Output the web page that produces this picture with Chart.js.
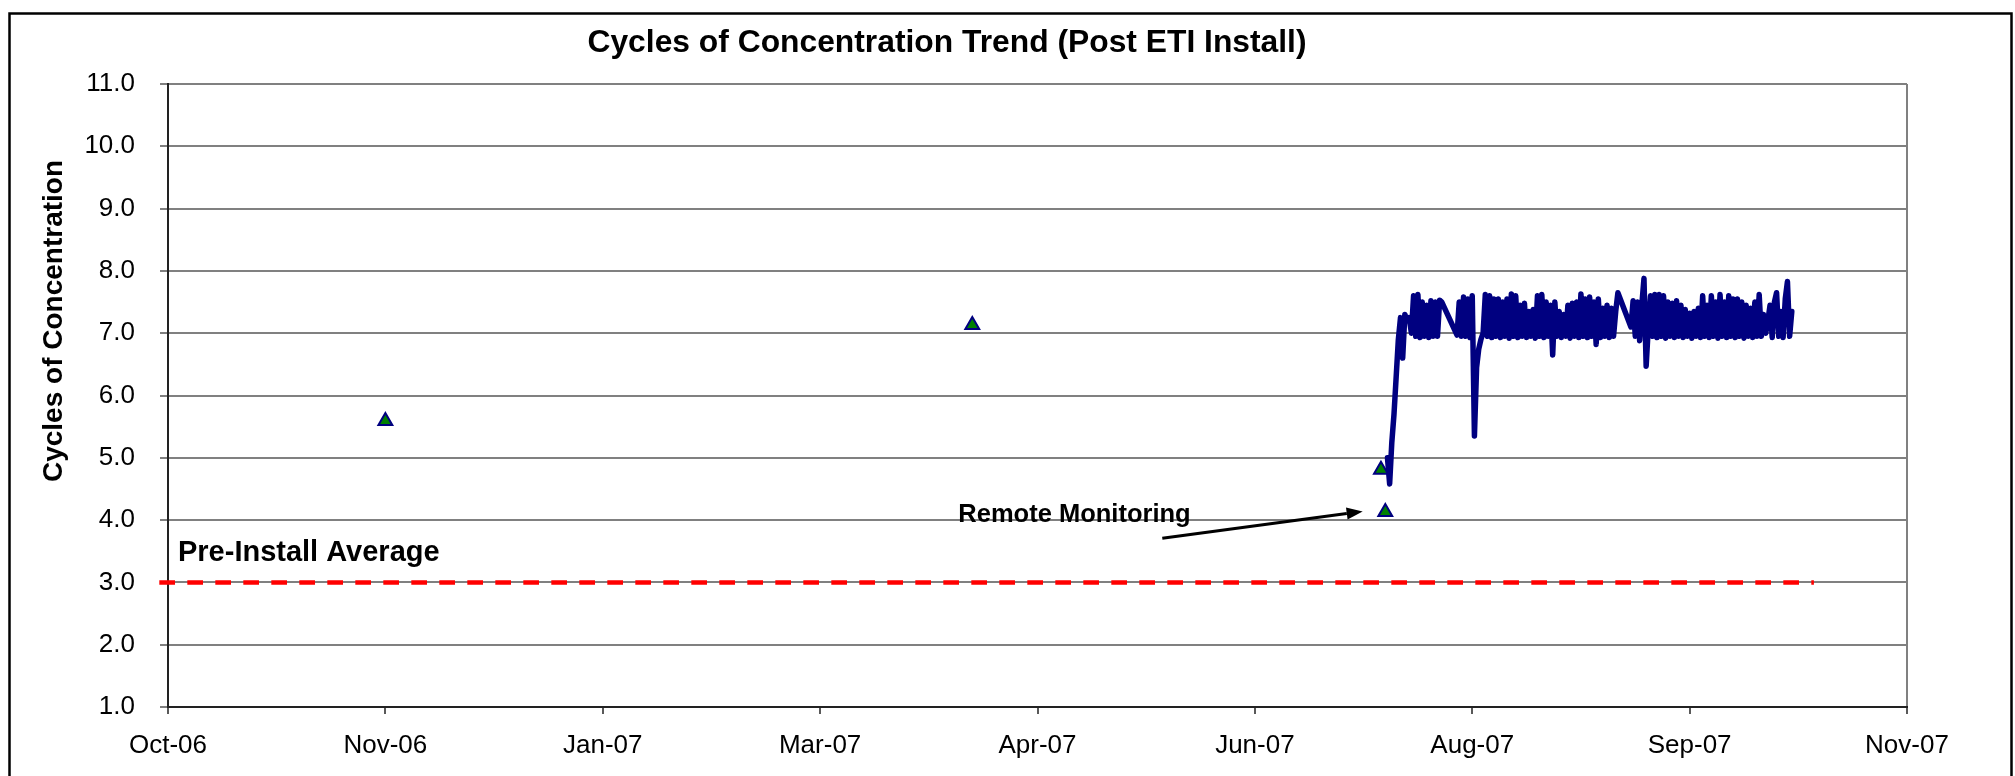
<!DOCTYPE html>
<html>
<head>
<meta charset="utf-8">
<script src="https://cdn.jsdelivr.net/npm/chart.js@4.4.1/dist/chart.umd.min.js"></script>
<style>
html,body{margin:0;padding:0;background:#fff;overflow:hidden}
#wrap{position:relative;width:2015px;height:776px}
</style>
</head>
<body>
<div id="wrap"><canvas id="c" width="2015" height="776"></canvas></div>
<script>
// ---------- text ----------
const chartTitle = 'Cycles of Concentration Trend (Post ETI Install)';
const yAxisTitle = 'Cycles of Concentration';
const preInstallLabel = 'Pre-Install Average';
const remoteLabel = 'Remote Monitoring';

// ---------- axes ----------
const xTickDates = ['2006-10-10','2006-11-29','2007-01-18','2007-03-09','2007-04-28','2007-06-17','2007-08-06','2007-09-25','2007-11-14'];
const xTickLabels = ['Oct-06','Nov-06','Jan-07','Mar-07','Apr-07','Jun-07','Aug-07','Sep-07','Nov-07'];
const yMin = 1, yMax = 11, yStep = 1;

// ---------- data ----------
// grab samples (triangles)
const sampleDates = ['2006-11-29','2007-04-13','2007-07-16','2007-07-17'];
const sampleValues = [5.59, 7.13, 4.81, 4.13];

// continuous remote-monitoring readings (12-hour readings, three runs)
const readingStepHours = 12;
const run1Start = '2007-07-17T12:00:00Z';
const run1Values = [5.0, 4.58, 5.25, 5.7, 6.3, 6.9, 7.25, 6.6, 7.3, 7.2,
  7.25, 7.0, 7.6, 6.95, 7.62, 6.93, 7.5, 6.95, 7.45, 6.93,
  7.52, 6.95, 7.5, 6.95, 7.53, 7.5];
const run2Start = '2007-08-02T12:00:00Z';
const run2Values = [6.97, 7.5, 6.95, 7.58, 6.95, 7.55, 6.93, 7.6, 5.35, 6.45,
  6.75, 6.9, 7.0, 7.62, 6.95, 7.6, 6.93, 7.55, 6.95, 7.55,
  6.93, 7.5, 6.95, 7.55, 6.92, 7.63, 6.95, 7.6, 6.93, 7.45,
  6.95, 7.48, 6.93, 7.35, 6.95, 7.38, 6.92, 7.6, 6.95, 7.62,
  6.93, 7.5, 6.95, 7.45, 6.65, 7.5, 6.95, 7.35, 6.93, 7.3,
  6.95, 7.45, 6.92, 7.48, 6.95, 7.5, 6.93, 7.63, 6.95, 7.55,
  6.93, 7.58, 6.95, 7.5, 6.82, 7.55, 6.93, 7.4, 6.95, 7.45,
  6.93, 7.4, 6.95, 7.35, 7.65];
const run3Start = '2007-09-11T12:00:00Z';
const run3Values = [7.1, 7.52, 6.95, 7.5, 6.88, 7.45, 7.88, 6.47, 7.1, 7.6,
  6.95, 7.62, 6.93, 7.62, 6.95, 7.6, 6.92, 7.5, 6.95, 7.48,
  6.93, 7.52, 6.95, 7.45, 6.93, 7.38, 6.95, 7.32, 6.92, 7.35,
  6.95, 7.4, 6.93, 7.6, 6.95, 7.45, 6.93, 7.6, 6.95, 7.5,
  6.92, 7.62, 6.95, 7.5, 6.93, 7.6, 6.95, 7.55, 6.93, 7.55,
  6.95, 7.5, 6.92, 7.45, 6.95, 7.4, 6.93, 7.5, 6.95, 7.62,
  6.95, 7.3, 7.0, 7.2, 7.45, 6.93, 7.5, 7.65, 6.95, 7.35,
  6.93, 7.55, 7.83, 6.95, 7.35];

// pre-install average reference line
const preInstallDates = ['2006-10-08T00:00:00Z', '2007-10-23T14:00:00Z'];
const preInstallValues = [3.0, 3.0];

// annotation anchors (data coordinates)
const preInstallLabelAt = ['2006-10-12T07:00:00Z', 3.35];
const remoteLabelAt = ['2007-04-09T19:00:00Z', 3.963];
const arrowFrom = ['2007-05-26T17:00:00Z', 3.71];
const arrowTo = ['2007-07-11T19:00:00Z', 4.14];

// ---------- build ----------
const toMs = s => Date.parse(s.length === 10 ? s + 'T00:00:00Z' : s);
const buildRun = (start, vals) => vals.map((v, i) => ({ x: toMs(start) + i * readingStepHours * 3600000, y: v }));
const lineData = [].concat(buildRun(run1Start, run1Values), buildRun(run2Start, run2Values), buildRun(run3Start, run3Values));
const sampleData = sampleDates.map((d, i) => ({ x: toMs(d), y: sampleValues[i] }));
const preData = preInstallDates.map((d, i) => ({ x: toMs(d), y: preInstallValues[i] }));

const FONT = '"Liberation Sans", Arial, Helvetica, sans-serif';

const decor = {
  id: 'decor',
  afterDraw(chart) {
    const { ctx } = chart;
    const xs = chart.scales.x, ys = chart.scales.y;
    const px = a => [xs.getPixelForValue(toMs(a[0])), ys.getPixelForValue(a[1])];
    ctx.save();
    // outer frame
    ctx.strokeStyle = '#000';
    ctx.lineWidth = 2.5;
    ctx.strokeRect(9.5, 13.5, 2002, 820);
    // title
    ctx.fillStyle = '#000';
    ctx.font = 'bold 31.8px ' + FONT;
    ctx.textAlign = 'center';
    ctx.textBaseline = 'alphabetic';
    ctx.fillText(chartTitle, 947, 51.5);
    // y axis title
    ctx.save();
    ctx.translate(54, 321);
    ctx.rotate(-Math.PI / 2);
    ctx.font = 'bold 28px ' + FONT;
    ctx.textAlign = 'center';
    ctx.textBaseline = 'middle';
    ctx.fillText(yAxisTitle, 0, 0);
    ctx.restore();
    // annotation labels
    ctx.textAlign = 'left';
    ctx.textBaseline = 'alphabetic';
    ctx.font = 'bold 29px ' + FONT;
    let p = px(preInstallLabelAt);
    ctx.fillText(preInstallLabel, p[0], p[1]);
    ctx.font = 'bold 25.5px ' + FONT;
    p = px(remoteLabelAt);
    ctx.fillText(remoteLabel, p[0], p[1]);
    // arrow
    const a = px(arrowFrom), b = px(arrowTo);
    const ang = Math.atan2(b[1] - a[1], b[0] - a[0]);
    const hl = 16, hw = 6;
    const bx = b[0] - Math.cos(ang) * hl, by = b[1] - Math.sin(ang) * hl;
    ctx.strokeStyle = '#000';
    ctx.lineWidth = 3;
    ctx.beginPath();
    ctx.moveTo(a[0], a[1]);
    ctx.lineTo(bx, by);
    ctx.stroke();
    ctx.beginPath();
    ctx.moveTo(b[0], b[1]);
    ctx.lineTo(bx + Math.sin(ang) * hw, by - Math.cos(ang) * hw);
    ctx.lineTo(bx - Math.sin(ang) * hw, by + Math.cos(ang) * hw);
    ctx.closePath();
    ctx.fillStyle = '#000';
    ctx.fill();
    ctx.restore();
  }
};

new Chart(document.getElementById('c'), {
  type: 'line',
  data: {
    datasets: [
      {
        label: preInstallLabel,
        data: preData,
        borderColor: '#FF0000',
        borderWidth: 4.5,
        borderDash: [15.7, 12.3],
        borderCapStyle: 'butt',
        pointRadius: 0,
        clip: false,
        order: 3
      },
      {
        label: 'Remote monitoring',
        data: lineData,
        borderColor: '#000080',
        borderWidth: 5.5,
        borderJoinStyle: 'round',
        borderCapStyle: 'round',
        pointRadius: 0,
        tension: 0,
        order: 2
      },
      {
        label: 'Samples',
        data: sampleData,
        showLine: false,
        pointStyle: 'triangle',
        pointRadius: 8,
        pointBackgroundColor: '#008000',
        pointBorderColor: '#000080',
        pointBorderWidth: 2,
        order: 1
      }
    ]
  },
  options: {
    responsive: false,
    animation: false,
    events: [],
    layout: { padding: { left: 0, top: 84, right: 108, bottom: 0 } },
    plugins: { legend: { display: false }, tooltip: { enabled: false }, title: { display: false } },
    scales: {
      x: {
        type: 'linear',
        min: toMs(xTickDates[0]),
        max: toMs(xTickDates[xTickDates.length - 1]),
        afterBuildTicks: s => { s.ticks = xTickDates.map(d => ({ value: toMs(d) })); },
        afterFit: s => { s.height = 69; },
        ticks: {
          callback: (v, i) => xTickLabels[i],
          font: { family: FONT, size: 26 },
          color: '#000',
          padding: 16,
          maxRotation: 0,
          autoSkip: false
        },
        grid: {
          drawOnChartArea: true,
          color: c => (c.index === xTickDates.length - 1 ? '#808080' : 'rgba(0,0,0,0)'),
          lineWidth: 2,
          tickLength: 7,
          tickColor: '#222',
          tickWidth: 1.5
        },
        border: { display: true, color: '#222', width: 2 }
      },
      y: {
        min: yMin,
        max: yMax,
        afterFit: s => { s.width = 168; },
        ticks: {
          stepSize: yStep,
          callback: v => Number(v).toFixed(1),
          font: { family: FONT, size: 26 },
          color: '#000',
          padding: 25
        },
        grid: {
          color: c => (c.tick && c.tick.value === yMin ? 'rgba(0,0,0,0)' : '#808080'),
          lineWidth: 2,
          tickLength: 8,
          tickColor: '#808080'
        },
        border: { display: true, color: '#222', width: 2 }
      }
    }
  },
  plugins: [decor]
});
</script>
</body>
</html>
